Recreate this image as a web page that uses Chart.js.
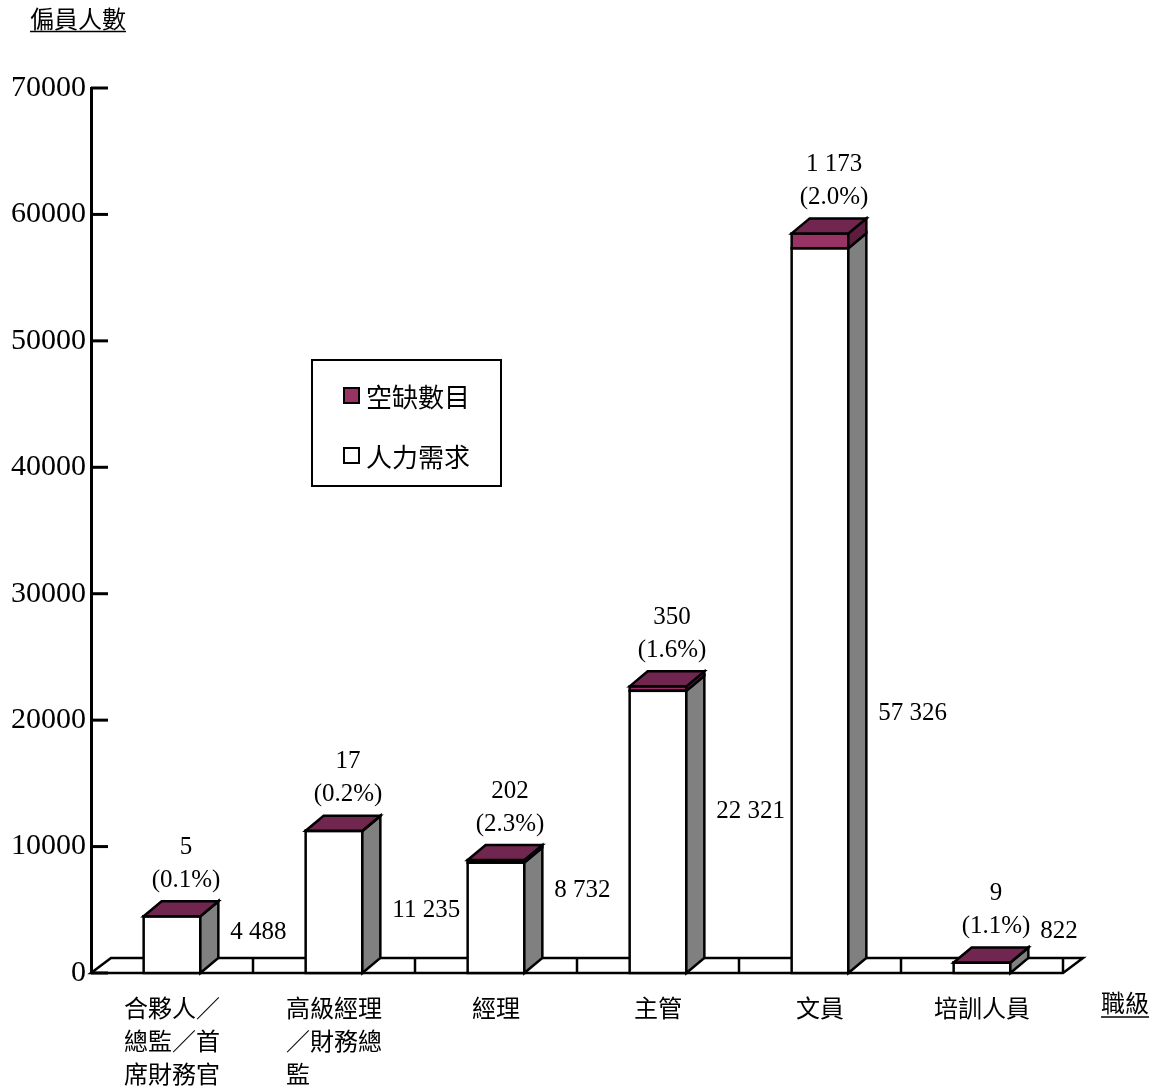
<!DOCTYPE html>
<html lang="zh-Hant">
<head>
<meta charset="utf-8">
<title>偏員人數與空缺數目（按職級）</title>
<script src="https://cdn.jsdelivr.net/npm/chart.js@4.4.1/dist/chart.umd.min.js"></script>
<style>
  html, body { margin: 0; padding: 0; background: #ffffff; }
  #wrap { width: 1166px; height: 1090px; }
</style>
</head>
<body>
<div id="wrap"><canvas id="chart" width="1166" height="1090"></canvas></div>
<script>
// ---- data ----
const categories = [
  ['合夥人／', '總監／首', '席財務官'],
  ['高級經理', '／財務總', '監'],
  ['經理'],
  ['主管'],
  ['文員'],
  ['培訓人員']
];
const demand = [4488, 11235, 8732, 22321, 57326, 822];
const vacancies = [5, 17, 202, 350, 1173, 9];
const vacancyRates = ['0.1%', '0.2%', '2.3%', '1.6%', '2.0%', '1.1%'];
const yTickValues = [0, 10000, 20000, 30000, 40000, 50000, 60000, 70000];
const seriesNames = ['人力需求', '空缺數目'];
const yTitle = '偏員人數';
const xTitle = '職級';
// axis level (in persons) beside which each demand figure is written
const demandLabelLevels = [3200, 4950, 6550, 12800, 20550, 3300];

// ---- styling ----
const SERIF = "'Liberation Serif', 'Times New Roman', serif";
const CJK = "'Noto Sans CJK TC', 'Noto Sans CJK SC', sans-serif";
const BAR_DEPTH = { dx: 18, dy: -15 };
const FLOOR_DEPTH = { dx: 20, dy: -15 };
const EDGE = 2.5;
const COLORS = {
  plum: '#993366',
  plumTop: '#712650',
  plumSide: '#5c1d3f',
  side: '#808080',
  ink: '#000000'
};

function spaced(n) {
  return String(n).replace(/\B(?=(\d{3})+(?!\d))/g, ' ');
}

function poly(ctx, pts, fill) {
  ctx.beginPath();
  ctx.moveTo(pts[0][0], pts[0][1]);
  for (let i = 1; i < pts.length; i++) ctx.lineTo(pts[i][0], pts[i][1]);
  ctx.closePath();
  if (fill) { ctx.fillStyle = fill; ctx.fill(); }
  ctx.stroke();
}

// Draws the floor, the inward y ticks, the bar outlines/sides/tops and all the text.
const box3d = {
  id: 'box3d',
  beforeDatasetsDraw(chart) {
    const { ctx, scales: { x, y } } = chart;
    const y0 = y.getPixelForValue(0);
    const l = x.left, r = x.right;
    ctx.save();
    ctx.strokeStyle = COLORS.ink;
    ctx.lineJoin = 'miter';
    ctx.lineWidth = EDGE;
    poly(ctx, [[l, y0], [l + FLOOR_DEPTH.dx, y0 + FLOOR_DEPTH.dy],
               [r + FLOOR_DEPTH.dx, y0 + FLOOR_DEPTH.dy], [r, y0]], '#ffffff');
    const n = categories.length;
    const w = (r - l) / n;
    for (let i = 1; i <= n; i++) {
      const xx = l + w * i;
      ctx.beginPath();
      ctx.moveTo(xx, y0);
      ctx.lineTo(xx, y0 + FLOOR_DEPTH.dy);
      ctx.stroke();
    }
    ctx.lineWidth = 3;
    y.ticks.forEach(t => {
      const py = y.getPixelForValue(t.value);
      ctx.beginPath();
      ctx.moveTo(l, py);
      ctx.lineTo(l + 17, py);
      ctx.stroke();
    });
    ctx.restore();
  },
  afterDatasetsDraw(chart) {
    const { ctx, scales: { y } } = chart;
    const metaD = chart.getDatasetMeta(0);
    const metaV = chart.getDatasetMeta(1);
    const { dx, dy } = BAR_DEPTH;
    ctx.save();
    ctx.strokeStyle = COLORS.ink;
    ctx.lineWidth = EDGE;
    ctx.lineJoin = 'miter';
    metaD.data.forEach((bd, i) => {
      const d = bd.getProps(['x', 'y', 'base', 'width'], true);
      const v = metaV.data[i].getProps(['x', 'y', 'base', 'width'], true);
      const left = d.x - d.width / 2;
      const right = d.x + d.width / 2;
      // front face outlines
      ctx.strokeRect(left, d.y, d.width, d.base - d.y);
      ctx.strokeRect(left, v.y, v.width, v.base - v.y);
      // right-hand side faces
      poly(ctx, [[right, d.base], [right, d.y], [right + dx, d.y + dy], [right + dx, d.base + dy]], COLORS.side);
      poly(ctx, [[right, v.base], [right, v.y], [right + dx, v.y + dy], [right + dx, v.base + dy]], COLORS.plumSide);
      // top face
      poly(ctx, [[left, v.y], [left + dx, v.y + dy], [right + dx, v.y + dy], [right, v.y]], COLORS.plumTop);

      // vacancy count and rate above the bar
      ctx.fillStyle = COLORS.ink;
      ctx.font = `25px ${SERIF}`;
      ctx.textAlign = 'center';
      ctx.textBaseline = 'middle';
      const topBack = v.y + dy;
      ctx.fillText(spaced(vacancies[i]), d.x + 14, topBack - 54);
      ctx.fillText(`(${vacancyRates[i]})`, d.x + 14, topBack - 21);

      // demand beside the bar
      ctx.textAlign = 'left';
      ctx.fillText(spaced(demand[i]), right + dx + 12, y.getPixelForValue(demandLabelLevels[i]));
    });
    ctx.restore();
  },
  afterDraw(chart) {
    const { ctx, scales: { x } } = chart;
    ctx.save();
    ctx.fillStyle = COLORS.ink;
    ctx.strokeStyle = COLORS.ink;
    ctx.textBaseline = 'middle';

    // category names, each block centred under its bar
    ctx.font = `24px ${CJK}`;
    ctx.textAlign = 'left';
    categories.forEach((lines, i) => {
      const cx = x.getPixelForValue(i);
      const bw = Math.max(...lines.map(s => ctx.measureText(s).width));
      lines.forEach((s, k) => ctx.fillText(s, cx - bw / 2, 1008 + k * 33));
    });

    // underlined axis titles
    const underlined = (text, tx, ty, uy) => {
      ctx.fillText(text, tx, ty);
      const w = ctx.measureText(text).width;
      ctx.lineWidth = 1.6;
      ctx.beginPath();
      ctx.moveTo(tx, uy);
      ctx.lineTo(tx + w, uy);
      ctx.stroke();
    };
    underlined(yTitle, 30, 19, 31.5);
    underlined(xTitle, 1101, 1003, 1017);

    // legend
    ctx.lineWidth = 2;
    ctx.strokeRect(312, 360, 189, 126);
    const entries = [
      { name: seriesNames[1], fill: COLORS.plum, cy: 396 },
      { name: seriesNames[0], fill: '#ffffff', cy: 456 }
    ];
    ctx.font = `26px ${CJK}`;
    entries.forEach(e => {
      ctx.fillStyle = e.fill;
      ctx.fillRect(344, e.cy - 8, 15, 15);
      ctx.strokeRect(344, e.cy - 8, 15, 15);
      ctx.fillStyle = COLORS.ink;
      ctx.fillText(e.name, 366, e.cy + 1);
    });
    ctx.restore();
  }
};

new Chart(document.getElementById('chart').getContext('2d'), {
  type: 'bar',
  data: {
    labels: categories,
    datasets: [
      {
        label: seriesNames[0],
        data: demand,
        backgroundColor: '#ffffff',
        borderWidth: 0,
        inflateAmount: 0,
        stack: 'jobs'
      },
      {
        label: seriesNames[1],
        data: vacancies,
        backgroundColor: COLORS.plum,
        borderWidth: 0,
        inflateAmount: 0,
        stack: 'jobs'
      }
    ]
  },
  options: {
    responsive: false,
    animation: false,
    devicePixelRatio: 1,
    layout: { padding: { top: 88, right: 103, bottom: 0, left: 0 } },
    datasets: { bar: { barPercentage: 0.35, categoryPercentage: 1 } },
    plugins: {
      legend: { display: false },
      tooltip: { enabled: false },
      title: { display: false }
    },
    scales: {
      x: {
        stacked: true,
        grid: { display: false, drawTicks: false },
        border: { display: false },
        ticks: { display: false },
        afterFit(s) { s.height = 117; }
      },
      y: {
        stacked: true,
        min: 0,
        max: 70000,
        afterBuildTicks(s) { s.ticks = yTickValues.map(v => ({ value: v })); },
        grid: { display: false, drawTicks: false },
        border: { display: true, color: COLORS.ink, width: 3 },
        ticks: {
          padding: 5,
          color: COLORS.ink,
          font: { family: SERIF, size: 30 },
          callback: v => String(v)
        },
        afterFit(s) { s.width = 91; }
      }
    }
  },
  plugins: [box3d]
});
</script>
</body>
</html>
